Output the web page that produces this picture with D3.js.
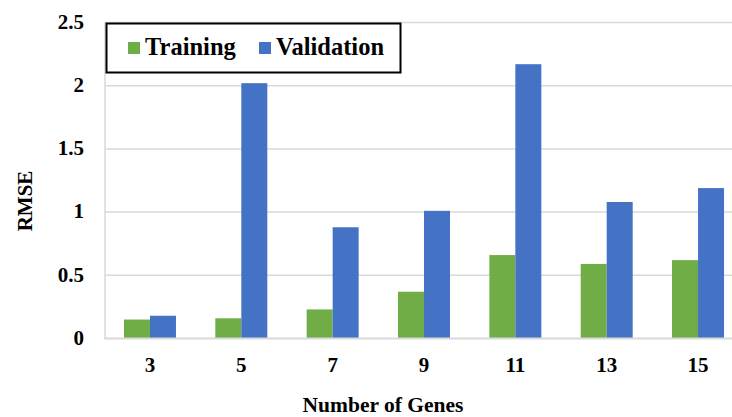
<!DOCTYPE html>
<html>
<head>
<meta charset="utf-8">
<script src="https://d3js.org/d3.v7.min.js"></script>
<style>
body { margin: 0; background: #fff; }
text { font-family: "Liberation Serif", "Times New Roman", serif; font-weight: bold; fill: #000; }
</style>
</head>
<body>
<script>
var genes = ["3", "5", "7", "9", "11", "13", "15"];
var training = [0.15, 0.16, 0.23, 0.37, 0.66, 0.59, 0.62];
var validation = [0.18, 2.02, 0.88, 1.01, 2.17, 1.08, 1.19];
var seriesNames = ["Training", "Validation"];
var colors = ["#70ad47", "#4472c4"];
var yTicks = [0, 0.5, 1, 1.5, 2, 2.5];

var width = 732, height = 417;
var svg = d3.select("body").append("svg")
  .attr("width", width)
  .attr("height", height);

var plotLeft = 105, plotRight = 736;

// the plot area runs past the right edge of the picture
var x = d3.scaleBand().domain(genes).range([104.3, 743.7]);
var sub = d3.scaleBand().domain(seriesNames).range([-26, 26]);
var y = d3.scaleLinear().domain([0, 2.5]).range([338.5, 22.5]);

// gridlines
svg.append("g").selectAll("line").data(yTicks.slice(1)).join("line")
  .attr("x1", plotLeft).attr("x2", plotRight)
  .attr("y1", d => y(d)).attr("y2", d => y(d))
  .attr("stroke", "#d9d9d9").attr("stroke-width", 1.5);

// left axis line
svg.append("line")
  .attr("x1", plotLeft).attr("x2", plotLeft)
  .attr("y1", y(2.5)).attr("y2", y(0))
  .attr("stroke", "#d9d9d9").attr("stroke-width", 1.5);

// bars
var rows = genes.map((g, i) => ({ g: g, vals: [training[i], validation[i]] }));
var groups = svg.append("g").selectAll("g").data(rows).join("g")
  .attr("transform", d => "translate(" + (x(d.g) + x.bandwidth() / 2) + ",0)");
groups.selectAll("rect").data(d => d.vals.map((v, k) => ({ k: k, v: v }))).join("rect")
  .attr("x", d => sub(seriesNames[d.k]))
  .attr("width", sub.bandwidth())
  .attr("y", d => y(d.v))
  .attr("height", d => y(0) - y(d.v))
  .attr("fill", d => colors[d.k]);

// baseline
svg.append("line")
  .attr("x1", plotLeft - 1).attr("x2", plotRight)
  .attr("y1", y(0)).attr("y2", y(0))
  .attr("stroke", "#d9d9d9").attr("stroke-width", 2);

// y tick labels
svg.append("g").selectAll("text").data(yTicks).join("text")
  .attr("x", 84).attr("y", d => y(d))
  .attr("dy", "0.3em")
  .attr("text-anchor", "end")
  .style("font-size", "21px")
  .text(d => d);

// x tick labels
svg.append("g").selectAll("text").data(genes).join("text")
  .attr("x", d => x(d) + x.bandwidth() / 2).attr("y", 372)
  .attr("text-anchor", "middle")
  .style("font-size", "21px")
  .text(d => d);

// axis titles
svg.append("text")
  .attr("x", 383).attr("y", 412)
  .attr("text-anchor", "middle")
  .style("font-size", "21.5px")
  .text("Number of Genes");

svg.append("text")
  .attr("transform", "translate(32,201) rotate(-90)")
  .attr("text-anchor", "middle")
  .style("font-size", "21px")
  .text("RMSE");

// legend
var legend = svg.append("g");
legend.append("rect")
  .attr("x", 106.5).attr("y", 23.5)
  .attr("width", 294).attr("height", 49)
  .attr("fill", "#fff").attr("stroke", "#000").attr("stroke-width", 2);
var legendX = [128, 259];
seriesNames.forEach(function (name, k) {
  legend.append("rect")
    .attr("x", legendX[k]).attr("y", 42)
    .attr("width", 12).attr("height", 12)
    .attr("fill", colors[k]);
  legend.append("text")
    .attr("x", legendX[k] + 17).attr("y", 55)
    .style("font-size", "24.5px")
    .text(name);
});
</script>
</body>
</html>
